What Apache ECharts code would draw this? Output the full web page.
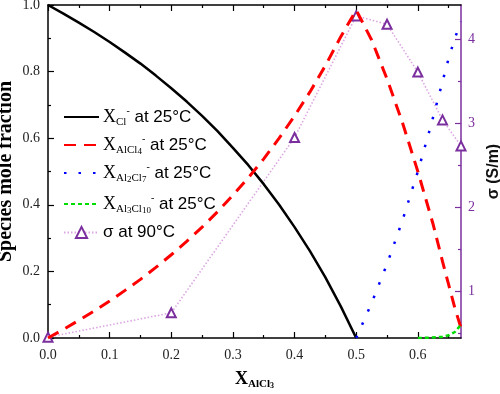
<!DOCTYPE html>
<html>
<head>
<meta charset="utf-8">
<script src="https://cdn.jsdelivr.net/npm/echarts@6/dist/echarts.min.js"></script>
<style>html,body{margin:0;padding:0;background:#fff}#c{width:500px;height:394px}</style>
</head>
<body>
<div id="c"></div>
<script>
// ---- data ----
const xCl = [0,0.025,0.05,0.075,0.1,0.125,0.15,0.175,0.2,0.225,0.25,0.275,0.3,0.325,0.35,0.375,0.4,0.425,0.45,0.475,0.5];
const yCl = [1,0.974,0.947,0.919,0.889,0.857,0.824,0.788,0.75,0.71,0.667,0.621,0.571,0.519,0.462,0.4,0.333,0.261,0.182,0.095,0];

const xAlCl4 = [0,0.025,0.05,0.075,0.1,0.125,0.15,0.175,0.2,0.225,0.25,0.275,0.3,0.325,0.35,0.375,0.4,0.425,0.45,0.475,0.5,0.525,0.55,0.575,0.6,0.625,0.64,0.65,0.66,0.67];
const yAlCl4 = [0,0.026,0.053,0.081,0.111,0.143,0.176,0.212,0.25,0.29,0.333,0.379,0.429,0.481,0.538,0.6,0.667,0.739,0.818,0.905,0.985,0.895,0.778,0.647,0.5,0.34,0.23,0.16,0.09,0.03];

const xAl2Cl7 = [0.5,0.525,0.55,0.575,0.6,0.62,0.64,0.65,0.66,0.67];
const yAl2Cl7 = [0,0.105,0.222,0.353,0.5,0.63,0.77,0.84,0.9,0.95];

const xAl3Cl10 = [0.6,0.62,0.64,0.65,0.66,0.67];
const yAl3Cl10 = [0,0.001,0.004,0.008,0.018,0.04];

const xSigma = [0,0.2,0.4,0.5,0.55,0.6,0.64,0.67];
const ySigma = [0.45,0.74,2.83,4.28,4.18,3.61,3.04,2.73];

const xMajorTicks = [0,0.1,0.2,0.3,0.4,0.5,0.6];
const xMinorTicks = [0.05,0.15,0.25,0.35,0.45,0.55,0.65];
const yMajorTicks = [0,0.2,0.4,0.6,0.8,1.0];
const yMinorTicks = [0.1,0.3,0.5,0.7,0.9];
const sMajorTicks = [1,2,3,4];
const sMinorTicks = [0.5,1.5,2.5,3.5];

const names = ['Cl','AlCl4','Al2Cl7','Al3Cl10','sigma'];
const labels = {
  Cl: '{x|X}{sub|Cl}{sup|-}{t| at 25°C}',
  AlCl4: '{x|X}{sub|AlCl}{sub2|4}{sup|-}{t| at 25°C}',
  Al2Cl7: '{x|X}{sub|Al}{sub2|2}{sub|Cl}{sub2|7}{sup|-}{t| at 25°C}',
  Al3Cl10: '{x|X}{sub|Al}{sub2|3}{sub|Cl}{sub2|10}{sup|-}{t| at 25°C}',
  sigma: '{t|σ at 90°C}'
};

const zip = (a, b) => a.map((v, i) => [v, b[i]]);
const serif = 'Liberation Serif';
const sans = 'Liberation Sans';
const purple = '#7b2e9e';

const rich = {
  x: {fontFamily: serif, fontSize: 18, color: '#000', lineHeight: 22, verticalAlign: 'middle'},
  sub: {fontFamily: serif, fontSize: 11, color: '#000', lineHeight: 12, verticalAlign: 'bottom'},
  sub2: {fontFamily: serif, fontSize: 9, color: '#000', lineHeight: 8, verticalAlign: 'bottom'},
  sup: {fontFamily: serif, fontSize: 10, color: '#000', lineHeight: 15, verticalAlign: 'top'},
  t: {fontFamily: sans, fontSize: 17, color: '#000', lineHeight: 22, verticalAlign: 'middle'}
};

const rowTops = [106, 134, 162, 193, 224];
const legends = names.map((n, i) => ({
  data: [n], left: 63, top: rowTops[i], orient: 'vertical',
  itemWidth: 35, itemHeight: 14, itemGap: 0, padding: 0,
  itemStyle: n === 'sigma' ? {} : {opacity: 0},
  formatter: nm => labels[nm],
  textStyle: {rich: rich, padding: [0,0,0,-1]}
}));

const tickCommon = (vals, len, color) => ({show: true, inside: true, length: len, customValues: vals, lineStyle: {color: color, width: 1.2}});

const option = {
  animation: false,
  grid: {left: 48, right: 39, top: 5, bottom: 56, containLabel: false, outerBoundsMode: 'none'},
  legend: legends,
  xAxis: [
    {type: 'value', position: 'bottom', min: 0, max: 0.67,
     axisLine: {onZero: false, lineStyle: {color: '#000', width: 1.5}},
     axisTick: tickCommon(xMajorTicks, 6, '#000'),
     axisLabel: {customValues: xMajorTicks, formatter: v => v.toFixed(1), fontFamily: serif, fontSize: 14, color: '#222', margin: 10},
     splitLine: {show: false},
     name: '{x|X}{s|AlCl}{ss|3}', nameLocation: 'middle', nameGap: 30,
     nameTextStyle: {rich: {
       x: {fontFamily: serif, fontWeight: 'bold', fontSize: 18, color: '#000', lineHeight: 22},
       s: {fontFamily: serif, fontWeight: 'bold', fontSize: 11, color: '#000', lineHeight: 10, verticalAlign: 'bottom'},
       ss: {fontFamily: serif, fontWeight: 'bold', fontSize: 8, color: '#000', lineHeight: 6, verticalAlign: 'bottom'}
     }}},
    {type: 'value', position: 'bottom', min: 0, max: 0.67,
     axisLine: {show: false, onZero: false}, axisTick: tickCommon(xMinorTicks, 3, '#000'),
     axisLabel: {show: false}, splitLine: {show: false}},
    {type: 'value', position: 'top', min: 0, max: 0.67,
     axisLine: {onZero: false, lineStyle: {color: '#000', width: 1.5}},
     axisTick: tickCommon(xMajorTicks, 6, '#000'),
     axisLabel: {show: false}, splitLine: {show: false}},
    {type: 'value', position: 'top', min: 0, max: 0.67,
     axisLine: {show: false, onZero: false}, axisTick: tickCommon(xMinorTicks, 3, '#000'),
     axisLabel: {show: false}, splitLine: {show: false}}
  ],
  yAxis: [
    {type: 'value', position: 'left', min: 0, max: 1,
     axisLine: {show: true, onZero: false, lineStyle: {color: '#000', width: 1.5}},
     axisTick: tickCommon(yMajorTicks, 6, '#000'),
     axisLabel: {customValues: yMajorTicks, formatter: v => v.toFixed(1), fontFamily: serif, fontSize: 14, color: '#222', margin: 8},
     splitLine: {show: false},
     name: 'Species mole fraction', nameLocation: 'middle', nameGap: 32, nameRotate: 90,
     nameMoveOverlap: false,
     nameTextStyle: {fontFamily: serif, fontWeight: 'bold', fontSize: 20, color: '#000', padding: [0, 0, 0, 0]}},
    {type: 'value', position: 'left', min: 0, max: 1,
     axisLine: {show: false, onZero: false}, axisTick: tickCommon(yMinorTicks, 3, '#000'),
     axisLabel: {show: false}, splitLine: {show: false}},
    {type: 'value', position: 'right', min: 0.44, max: 4.41,
     axisLine: {show: true, onZero: false, lineStyle: {color: purple, width: 1.5}},
     axisTick: tickCommon(sMajorTicks, 6, purple),
     axisLabel: {customValues: sMajorTicks, fontFamily: serif, fontSize: 14, color: purple, margin: 7},
     splitLine: {show: false},
     name: 'σ (S/m)', nameLocation: 'middle', nameGap: 25, nameRotate: 90,
     nameTextStyle: {fontFamily: sans, fontWeight: 'bold', fontSize: 16, color: '#111', padding: [0,0,12,0]}},
    {type: 'value', position: 'right', min: 0.44, max: 4.41,
     axisLine: {show: false, onZero: false}, axisTick: tickCommon(sMinorTicks, 3, purple),
     axisLabel: {show: false}, splitLine: {show: false}}
  ],
  series: [
    {name: 'sigma', type: 'line', xAxisIndex: 0, yAxisIndex: 2, data: zip(xSigma, ySigma),
     symbol: 'emptyTriangle', symbolSize: 9, z: 1,
     itemStyle: {color: purple, borderWidth: 1.5},
     lineStyle: {color: '#dca6e3', width: 1.6, type: [1.5, 2]}},
    {name: 'Cl', type: 'line', xAxisIndex: 0, yAxisIndex: 0, data: zip(xCl, yCl),
     symbol: 'none', smooth: false, color: '#000', lineStyle: {color: '#000', width: 2.5}},
    {name: 'AlCl4', type: 'line', xAxisIndex: 0, yAxisIndex: 0, data: zip(xAlCl4, yAlCl4),
     symbol: 'none', color: '#ff0000', lineStyle: {color: '#ff0000', width: 3, type: [12, 8]}},
    {name: 'Al2Cl7', type: 'line', xAxisIndex: 0, yAxisIndex: 0, data: zip(xAl2Cl7, yAl2Cl7),
     symbol: 'none', color: '#0000ff', lineStyle: {color: '#0000ff', width: 2.5, type: [2.5, 12]}},
    {name: 'Al3Cl10', type: 'line', xAxisIndex: 0, yAxisIndex: 0, data: zip(xAl3Cl10, yAl3Cl10),
     symbol: 'none', color: '#00dd00', lineStyle: {color: '#00dd00', width: 2.5, type: [4, 3]}}
  ]
};
const chart = echarts.init(document.getElementById('c'), null, {renderer: 'canvas'});
chart.setOption(option);
</script>
</body>
</html>
